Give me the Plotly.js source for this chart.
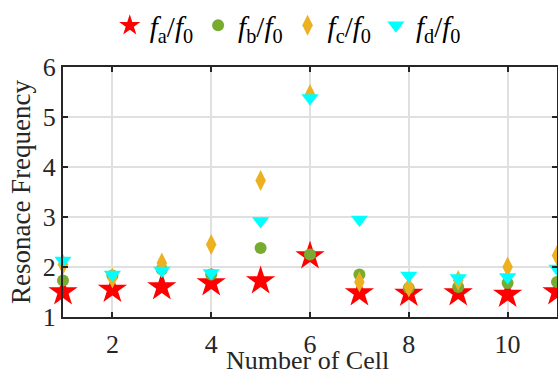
<!DOCTYPE html>
<html><head><meta charset="utf-8">
<script src="https://cdn.plot.ly/plotly-3.0.1.min.js"></script>
<style>html,body{margin:0;padding:0;background:#fff}</style>
</head><body><div id="chart" style="width:558px;height:375px"></div>
<script>
var cells = [1,2,3,4,5,6,7,8,9,10,11];
var fa = [1.50,1.55,1.60,1.68,1.72,2.22,1.48,1.47,1.48,1.45,1.50];
var fb = [1.73,1.83,1.95,1.85,2.38,2.25,1.85,1.58,1.60,1.68,1.70];
var fc = [2.05,1.78,2.08,2.45,3.73,5.45,1.70,1.60,1.73,2.00,2.23];
var fd = [2.13,1.85,1.93,1.88,2.92,5.38,2.95,1.83,1.78,1.80,1.97];
var names = ['<i>f</i><sub>a</sub>/<i>f</i><sub>0</sub>','<i>f</i><sub>b</sub>/<i>f</i><sub>0</sub>','<i>f</i><sub>c</sub>/<i>f</i><sub>0</sub>','<i>f</i><sub>d</sub>/<i>f</i><sub>0</sub>'];

function tr(y, name, sym, color, size){
  return {x: cells, y: y, name: name, type:'scatter', mode:'markers', cliponaxis:false,
    marker:{symbol:sym, color:color, size:size, line:{width:0}}};
}
var data = [
  tr(fa, names[0], 'star', '#ff0000', 22),
  tr(fb, names[1], 'circle', '#77ac30', 12),
  tr(fc, names[2], 'diamond-tall', '#edb120', 15),
  tr(fd, names[3], 'triangle-down', '#00ffff', 15)
];
var axisCommon = {showline:true, linecolor:'#262626', linewidth:2, mirror:'ticks', ticks:'inside', ticklen:5, tickwidth:2, tickcolor:'#262626', showgrid:true, gridcolor:'#e0e0e0', gridwidth:2, zeroline:false, tickfont:{family:'Liberation Serif', size:26, color:'#262626'}};
var layout = {
  width:558, height:375,
  margin:{l:63, r:1, t:67, b:58},
  paper_bgcolor:'#fff', plot_bgcolor:'#fff',
  font:{family:'Liberation Serif', color:'#262626'},
  showlegend:true,
  legend:{orientation:'h', x:0.455, xanchor:'center', y:1.0, yanchor:'top', yref:'container', font:{size:29, family:'Liberation Serif', color:'#000'}, itemwidth:30, tracegroupgap:0},
  xaxis: Object.assign({}, axisCommon, {range:[1,11], tickvals:[2,4,6,8,10], ticktext:['2','4','6','8','10'], ticklabelstandoff:3}),
  yaxis: Object.assign({}, axisCommon, {range:[1,6], tickvals:[1,2,3,4,5,6], title:{text:'Resonace Frequency', font:{size:27, family:'Liberation Serif', color:'#262626'}, standoff:4}}),
  annotations:[{text:'Number of Cell', xref:'paper', yref:'paper', x:0.495, y:-0.175, xanchor:'center', yanchor:'middle', showarrow:false, font:{size:26, family:'Liberation Serif', color:'#262626'}}]
};
Plotly.newPlot('chart', data, layout, {displayModeBar:false, staticPlot:true});
</script></body></html>
